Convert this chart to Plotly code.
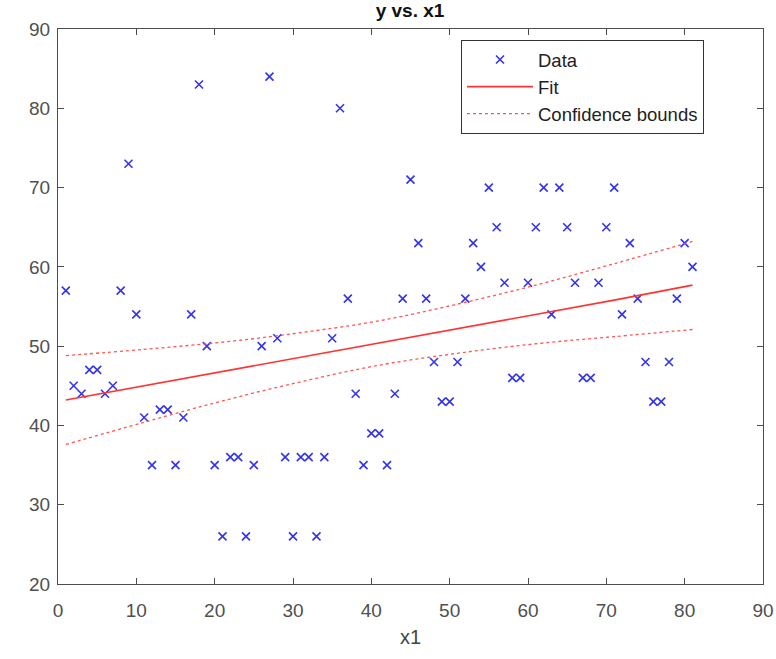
import plotly.graph_objects as go

# Data
x_data = list(range(1, 82))
y_data = [57, 45, 44, 47, 47, 44, 45, 57, 73, 54,
          41, 35, 42, 42, 35, 41, 54, 83, 50, 35,
          26, 36, 36, 26, 35, 50, 84, 51, 36, 26,
          36, 36, 26, 36, 51, 80, 56, 44, 35, 39,
          39, 35, 44, 56, 71, 63, 56, 48, 43, 43,
          48, 56, 63, 60, 70, 65, 58, 46, 46, 58,
          65, 70, 54, 70, 65, 58, 46, 46, 58, 65,
          70, 54, 63, 56, 48, 43, 43, 48, 56, 63, 60]

x_fit = [1, 11, 21, 31, 41, 51, 61, 71, 81]
y_fit = [43.2, 45.0, 46.8, 48.6, 50.4, 52.2, 54.0, 55.8, 57.7]
y_upper = [48.8, 49.6, 50.5, 51.7, 53.2, 55.3, 57.7, 60.4, 63.2]
y_lower = [37.6, 40.4, 43.1, 45.5, 47.6, 49.1, 50.3, 51.2, 52.1]

x_ticks = [0, 10, 20, 30, 40, 50, 60, 70, 80, 90]
y_ticks = [20, 30, 40, 50, 60, 70, 80, 90]

FONT = "Liberation Sans, Arial, sans-serif"
AX = "#4d4d4d"

fig = go.Figure()
fig.add_trace(go.Scatter(
    x=x_data, y=y_data, mode="markers", name="Data",
    marker=dict(symbol="x-thin", size=8, color="#3333ee",
                line=dict(width=1.6, color="#3333ee")),
))
fig.add_trace(go.Scatter(
    x=x_fit, y=y_fit, mode="lines", name="Fit",
    line=dict(color="#ff3333", width=1.6),
))
fig.add_trace(go.Scatter(
    x=x_fit, y=y_upper, mode="lines", name="Confidence bounds",
    line=dict(color="#ff5555", width=1.3, dash="dot", shape="spline"),
    legendgroup="cb",
))
fig.add_trace(go.Scatter(
    x=x_fit, y=y_lower, mode="lines", name="Confidence bounds",
    line=dict(color="#ff5555", width=1.3, dash="dot", shape="spline"),
    legendgroup="cb", showlegend=False,
))

axis_common = dict(
    showline=True, linecolor=AX, linewidth=1, mirror="ticks",
    ticks="inside", ticklen=6, tickcolor=AX, tickwidth=1,
    showgrid=False, zeroline=False, automargin=False,
    tickfont=dict(family=FONT, size=19, color="#505050"),
)

fig.update_layout(
    width=776, height=659,
    margin=dict(l=58, r=13, t=29, b=75),
    paper_bgcolor="white", plot_bgcolor="white",
    title=dict(text="<b>y vs. x1</b>", x=410 / 776, xref="container", xanchor="center",
               y=1, yref="container", yanchor="top", pad=dict(t=4),
               font=dict(family=FONT, size=19, color="#111111")),
    xaxis=dict(range=[0, 90], tickvals=x_ticks, ticklabelstandoff=9,
               title=dict(text="x1", font=dict(family=FONT, size=20, color="#444444"), standoff=10),
               **axis_common),
    yaxis=dict(range=[20, 90], tickvals=y_ticks, ticklabelstandoff=3, **axis_common),
    legend=dict(x=(461 - 58) / 705, y=(584 - 40) / 555, xanchor="left", yanchor="top",
                bgcolor="white", bordercolor="#333333", borderwidth=1,
                font=dict(family=FONT, size=18.5, color="#222222"),
                tracegroupgap=0, itemwidth=66),
    showlegend=True,
)

fig.write_html("out.html", config={"displayModeBar": False},
               post_script="document.body.style.margin='0';")
